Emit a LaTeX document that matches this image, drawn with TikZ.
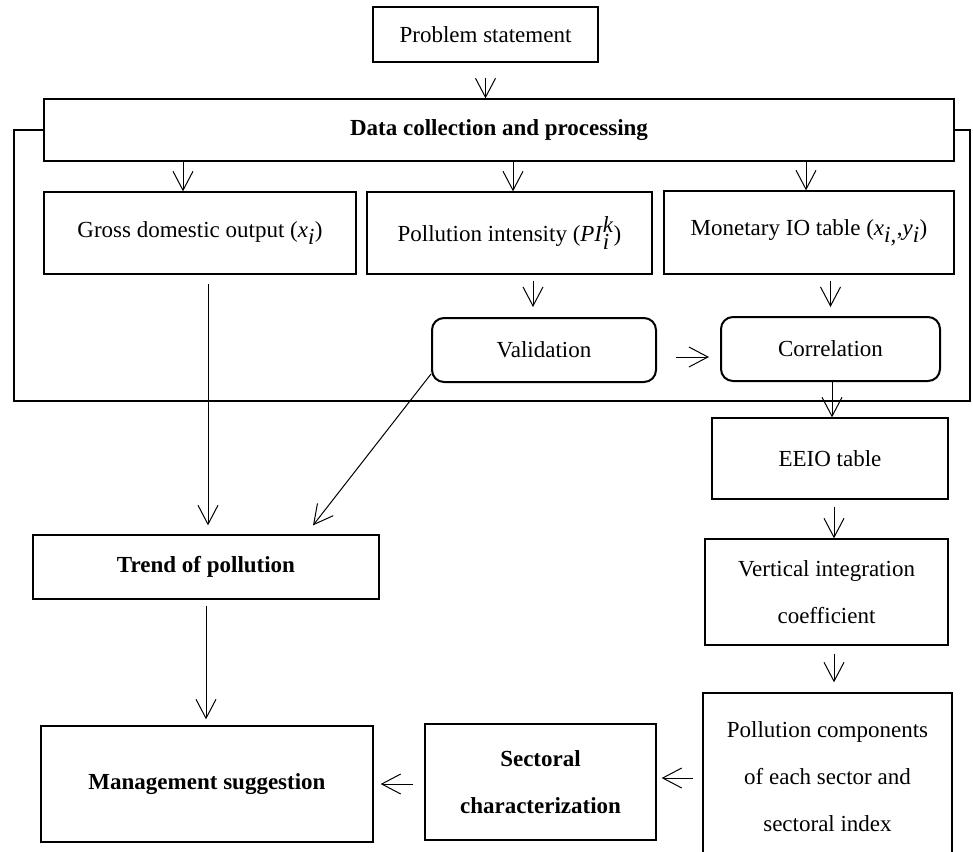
\documentclass[tikz,border=0pt]{standalone}
\usepackage{fontspec}
\setmainfont{Liberation Serif}
\usetikzlibrary{arrows.meta}
\newcommand\boxfont{\fontsize{23}{47}\selectfont}

\begin{document}
\begin{tikzpicture}[x=1pt, y=-1pt, font=\boxfont,
    box/.style={draw, line width=1.3pt, rectangle, inner sep=0pt, align=center},
    bbox/.style={box, font=\boxfont\bfseries},
    rbox/.style={draw, line width=2pt, rounded corners=12pt, inner sep=0pt, align=center},
    arr/.style={-{Straight Barb[length=19pt, width=20pt]}, line width=1pt},
    frame/.style={line width=2pt}]
\useasboundingbox (0,0) rectangle (973,851);
\clip (0,0) rectangle (973,851);

% Blocchi
\node[box, minimum width=225pt, minimum height=55pt] (prob) at (485.5,34.5) {Problem statement};
\node[bbox, minimum width=910pt, minimum height=62pt] (data) at (499,130) {Data collection and processing};
\node[box, minimum width=312pt, minimum height=82pt] (gdo) at (200,233) {Gross domestic output (\textit{x}$_{\textit{i}}$)};
\node[box, minimum width=285pt, minimum height=82pt] (pint) at (509.5,233) {Pollution intensity (\textit{PI}$_{\textit{i}}^{\textit{k}}$)};
\node[box, minimum width=290pt, minimum height=83pt] (mio) at (809,232.5) {Monetary IO table (\textit{x}$_{\textit{i,}}$,\textit{y}$_{\textit{i}}$)};
\node[rbox, minimum width=224pt, minimum height=64pt] (valid) at (544,350) {Validation};
\node[rbox, minimum width=219pt, minimum height=64pt] (corr) at (830.5,349) {Correlation};
\node[box, minimum width=236pt, minimum height=81pt] (eeio) at (830,458.5) {EEIO table};
\node[box, minimum width=243pt, minimum height=106pt] (vic) at (826.5,592) {Vertical integration\\coefficient};
\node[box, minimum width=249pt, minimum height=168pt] (pcomp) at (827.5,777) {Pollution components\\of each sector and\\sectoral index};
\node[bbox, minimum width=346pt, minimum height=64pt] (trend) at (206,567) {Trend of pollution};
\node[bbox, minimum width=332pt, minimum height=116pt] (mgmt) at (207,784) {Management suggestion};
\node[bbox, minimum width=231pt, minimum height=116pt] (sect) at (540.5,782) {Sectoral\\characterization};

% Cornice
\coordinate (fl) at (14,401);
\coordinate (fr) at (970,401);
\draw[frame] (data.west) -| (fl) -- (fr) |- (data.east);

% Frecce
\draw[arr, shorten <=15pt] (prob.south) -- (prob.south |- data.north);
\foreach \n/\s in {gdo/-17, pint/3.5, mio/-3} {
        \draw[arr] ([xshift=\s pt]\n.north |- data.south) -- ([xshift=\s pt]\n.north);
    }
\draw[arr, shorten <=6pt, shorten >=10pt] ([xshift=-11pt]valid.north |- pint.south) -- ([xshift=-11pt]valid.north);
\draw[arr, shorten <=6pt, shorten >=9pt] (corr.north |- mio.south) -- (corr.north);
\draw[arr, shorten <=19pt, shorten >=11pt] ([yshift=-7pt]valid.east) -- ([yshift=-7pt]valid.east -| corr.west);
\draw[arr] ([xshift=1.5pt]corr.south) -- ([xshift=1.5pt]corr.south |- eeio.north);
\draw[arr, shorten <=7pt] ([xshift=4pt]eeio.south) -- ([xshift=4pt]eeio.south |- vic.north);
\draw[arr, shorten <=8pt, shorten >=10pt] ([xshift=7.5pt]vic.south) -- ([xshift=7.5pt]vic.south |- pcomp.north);
\draw[arr, shorten <=9pt, shorten >=5pt] ([yshift=-1pt]pcomp.west) -- ([yshift=-1pt]pcomp.west -| sect.east);
\draw[arr, shorten <=11pt, shorten >=7pt] (sect.west |- mgmt.east) -- (mgmt.east);
\draw[arr, shorten <=9pt, shorten >=9pt] ([xshift=8pt]gdo.south) -- ([xshift=8pt]gdo.south |- trend.north);
\draw[arr, shorten >=11.4pt] ([yshift=9pt]valid.south west) -- ([xshift=100pt]trend.north);
\draw[arr, shorten <=6pt, shorten >=6pt] (trend.south) -- (trend.south |- mgmt.north);
\end{tikzpicture}
\end{document}
